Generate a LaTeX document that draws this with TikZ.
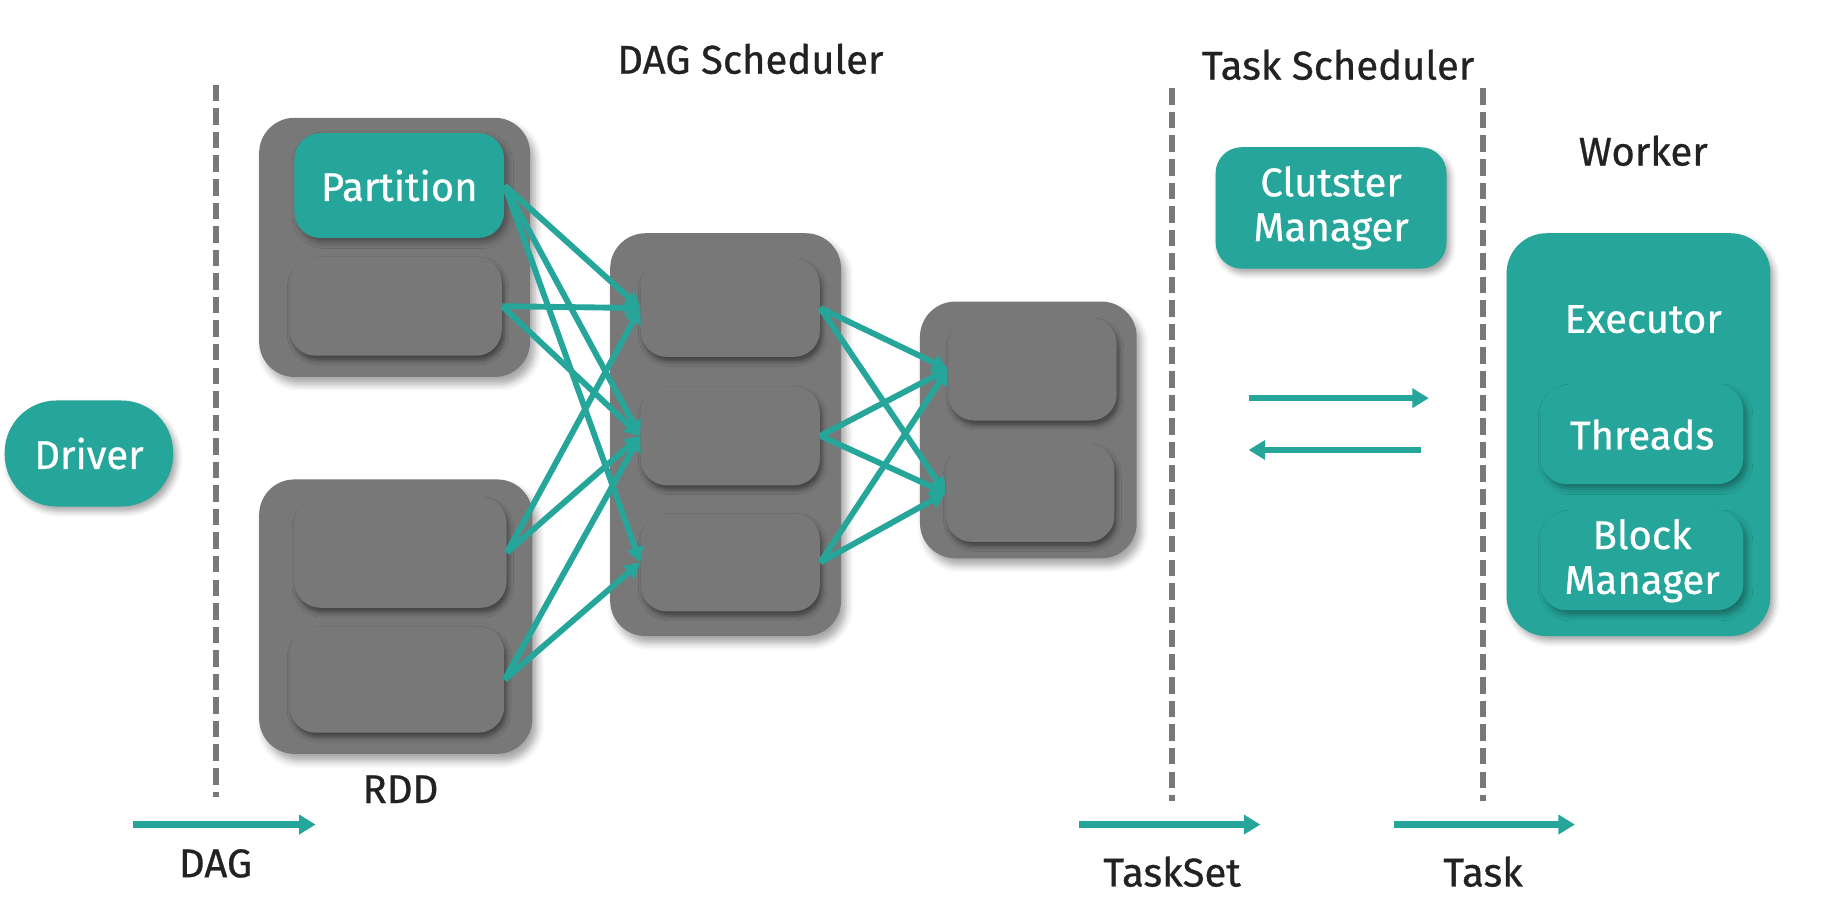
\documentclass[tikz,border=0pt]{standalone}
\usepackage{fontspec}
\setmainfont{Fira Sans}[FakeBold=0.7]
\usetikzlibrary{arrows.meta, shadows.blur}

\definecolor{sparkteal}{HTML}{26A69A}
\definecolor{boxgray}{HTML}{787878}
\definecolor{txtdark}{HTML}{222222}

\begin{document}
\begin{tikzpicture}[x=0.5pt, y=-0.5pt,
        outer/.style={fill=boxgray, rounded corners=15pt, inner sep=0pt,
            blur shadow={shadow xshift=2pt, shadow yshift=-3pt, shadow blur radius=3pt, shadow opacity=35}},
        inner/.style={fill=boxgray, rounded corners=11pt, inner sep=0pt,
            blur shadow={shadow xshift=1pt, shadow yshift=-2pt, shadow blur radius=2pt, shadow opacity=45}},
        tealbox/.style={fill=sparkteal, text=white, rounded corners=11pt, inner sep=0pt, align=center,
            font=\fontsize{17}{19}\selectfont,
            blur shadow={shadow xshift=1.5pt, shadow yshift=-2pt, shadow blur radius=2.5pt, shadow opacity=35}},
        lbl/.style={text=txtdark, font=\fontsize{17}{19}\selectfont},
        flow/.style={draw=sparkteal, line width=2.5pt, -{Triangle[length=6.5pt, width=7pt]}},
        bigflow/.style={draw=sparkteal, line width=2.8pt, -{Triangle[length=7pt, width=8pt]}},
        sep/.style={draw=boxgray, line width=2.5pt, dash pattern=on 7pt off 3pt}]

        \useasboundingbox (0, 0) rectangle (1568, 780);

        % separators
        \draw[sep] (183, 72) -- (183, 677);
        \draw[sep] (995, 75) -- (995, 680);
        \draw[sep] (1259, 75) -- (1259, 680);

        % driver
        \node[tealbox, rounded corners=22pt, minimum width=71.5pt, minimum height=45pt] (driver) at (75.5, 385) {Driver};

        % RDDs
        \node[outer, minimum width=115pt, minimum height=110pt] (rdda) at (335, 210) {};
        \node[tealbox, minimum width=89pt, minimum height=44.5pt] (part) at (339, 157.5) {Partition};
        \node[inner, minimum width=90pt, minimum height=42pt] (rddaone) at (336, 260) {};

        \node[outer, minimum width=116pt, minimum height=116.5pt] (rddb) at (336, 523.5) {};
        \node[inner, minimum width=90pt, minimum height=47pt] (rddbone) at (340, 469) {};
        \node[inner, minimum width=91pt, minimum height=45pt] (rddbtwo) at (337, 577) {};

        % stages
        \node[outer, minimum width=98pt, minimum height=171pt] (stg) at (616, 369) {};
        \node[inner, minimum width=76pt, minimum height=41.5pt] (stgone) at (620, 261.5) {};
        \node[inner, minimum width=76pt, minimum height=42pt] (stgtwo) at (620, 370) {};
        \node[inner, minimum width=76pt, minimum height=41.5pt] (stgthree) at (620, 477.5) {};

        \node[outer, minimum width=92pt, minimum height=109pt] (res) at (873, 365) {};
        \node[inner, minimum width=71.5pt, minimum height=43.5pt] (resone) at (876.5, 313.5) {};
        \node[inner, minimum width=71.5pt, minimum height=41.5pt] (restwo) at (874.5, 418.5) {};

        % cluster manager and worker
        \node[tealbox, minimum width=98pt, minimum height=51.5pt] (cm) at (1130, 176.5) {Clutster\\Manager};
        \node[tealbox, rounded corners=17pt, minimum width=112pt, minimum height=171pt] (wrk) at (1391, 369) {};
        \node[text=white, font=\fontsize{17}{19}\selectfont] (exec) at (1395, 271) {Executor};
        \node[tealbox, minimum width=86pt, minimum height=42pt] (thr) at (1394, 369) {Threads};
        \node[tealbox, minimum width=86pt, minimum height=42pt] (blk) at (1394, 476) {Block\\Manager};

        % labels
        \node[lbl] (dagsched) at (637, 50) {DAG Scheduler};
        \node[lbl] (tasksched) at (1136, 55) {Task Scheduler};
        \node[lbl] (worker) at (1395, 128) {Worker};
        \node[lbl] (rddlbl) at (340, 670) {RDD};
        \node[lbl] (daglbl) at (183, 733) {DAG};
        \node[lbl] (tsetlbl) at (995, 740) {TaskSet};
        \node[lbl] (tasklbl) at (1259, 740) {Task};

        % dependencies
        \foreach \s/\t in {part/stgone, part/stgtwo, part/stgthree,
                rddaone/stgone, rddaone/stgtwo,
                rddbone/stgone, rddbone/stgtwo,
                rddbtwo/stgtwo, rddbtwo/stgthree,
                stgone/resone, stgone/restwo,
                stgtwo/resone, stgtwo/restwo,
                stgthree/resone, stgthree/restwo}
            \draw[flow] (\s.east) -- (\t.west);

        % free arrows
        \coordinate (dagA) at (113, 700);
        \coordinate (dagB) at (268, 700);
        \coordinate (tsA) at (916, 700);
        \coordinate (tsB) at (1070, 700);
        \coordinate (tkA) at (1183, 700);
        \coordinate (tkB) at (1337, 700);
        \coordinate (reqA) at (1060, 338);
        \coordinate (reqB) at (1213, 338);
        \coordinate (ackA) at (1206, 382);
        \coordinate (ackB) at (1060, 382);

        \draw[bigflow] (dagA) -- (dagB);
        \draw[bigflow] (tsA) -- (tsB);
        \draw[bigflow] (tkA) -- (tkB);
        \draw[bigflow] (reqA) -- (reqB);
        \draw[bigflow] (ackA) -- (ackB);
\end{tikzpicture}
\end{document}
